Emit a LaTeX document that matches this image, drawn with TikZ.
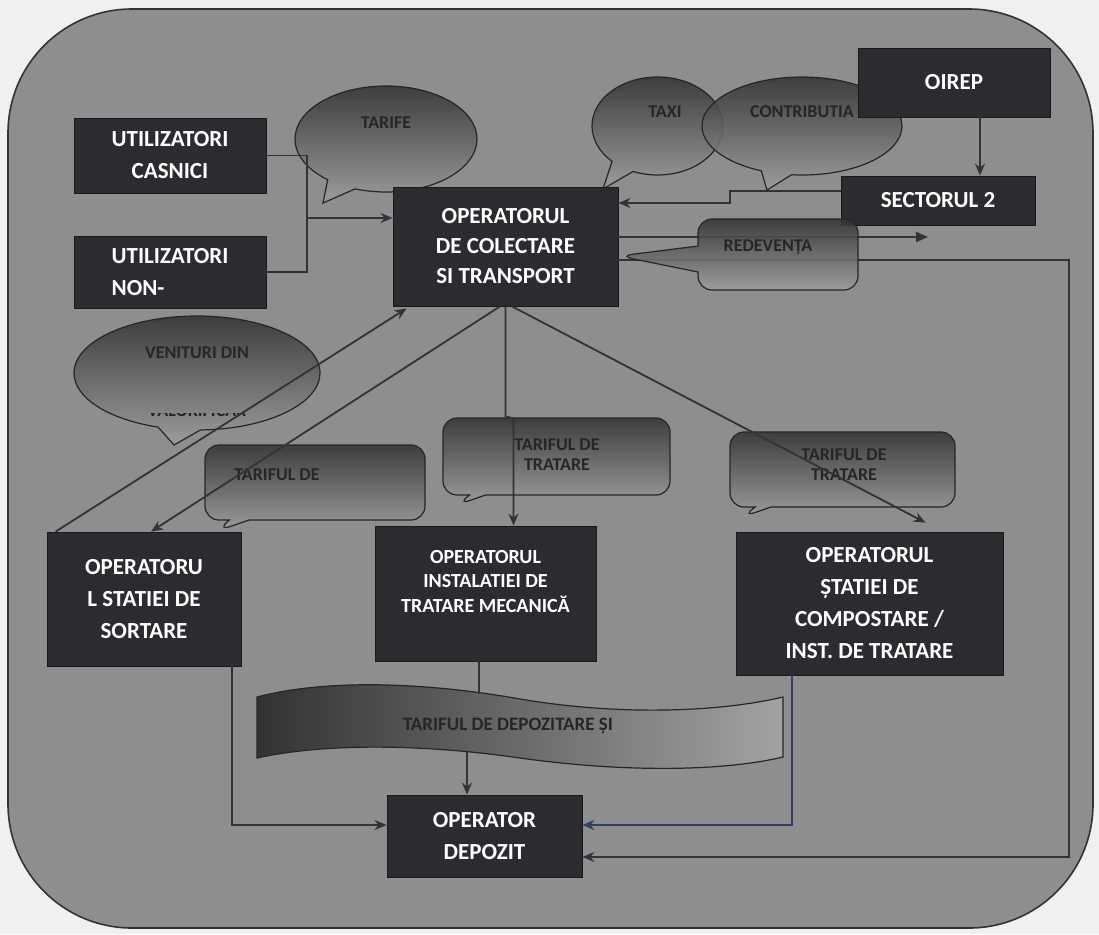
\documentclass[tikz,border=0pt]{standalone}
\usepackage{fontspec}
\setmainfont{Carlito}
\usetikzlibrary{positioning,shapes.callouts,arrows.meta}

\definecolor{boxfill}{RGB}{44,44,48}
\definecolor{panel}{RGB}{142,142,142}
\definecolor{linkcol}{RGB}{50,50,56}
\definecolor{bluelink}{RGB}{50,62,94}

\tikzset{
  box/.style={draw=black!90, fill=boxfill, text=white, align=center, inner sep=0pt,
    font=\bfseries\fontsize{11.5}{16}\selectfont},
  bubble/.style={draw=black!85, line width=0.6pt, top color=black!80, bottom color=black!38, fill opacity=0.88},
  bubtext/.style={text=black!85, align=center, inner sep=0pt, font=\bfseries\fontsize{9}{10}\selectfont},
  link/.style={draw=linkcol, line width=0.9pt}
}

\begin{document}
\begin{tikzpicture}[x=0.5pt,y=0.5pt,>={Stealth[length=6pt,width=5pt]}]
  \useasboundingbox (0,0) rectangle (1099,-934);
  \fill[gray!12] (0,0) rectangle (1099,-934);
  \draw[fill=panel, draw=black!80, line width=0.8pt, rounded corners=62pt] (8,-9) rectangle (1093,-928);

  \node[bubble, ellipse callout, callout pointer arc=20, minimum width=91pt, minimum height=53pt, callout absolute pointer={(323,-203)}] (a) at (386,-139) {};
  \node[bubtext] (a1) at (386,-123) {TARIFE};
  \node[bubble, ellipse callout, callout pointer arc=22, minimum width=65.5pt, minimum height=49pt, callout absolute pointer={(603,-189)}] (b) at (657.5,-126) {};
  \node[bubtext] (b1) at (665,-112) {TAXI};
  \node[bubble, ellipse callout, callout pointer arc=18, minimum width=100pt, minimum height=49pt, callout absolute pointer={(767,-190)}] (c) at (802,-126) {};
  \node[bubtext] (c1) at (802,-112) {CONTRIBUTIA};
  \node[bubble, ellipse callout, callout pointer arc=20, minimum width=123pt, minimum height=57pt, callout absolute pointer={(174,-445)}] (d) at (197,-373) {};
  \node[bubtext] (d1) at (197,-353) {VENITURI DIN};
  \begin{scope}
    \clip (100,-413) rectangle (300,-440);
    \node[bubtext] (d2) at (197,-411) {VALORIFICAR};
  \end{scope}

  \node[bubble, rectangle callout, rounded corners=7pt, callout pointer width=10pt, minimum width=110pt, minimum height=37.5pt, callout absolute pointer={(217,-531)}] (f) at (315,-482.5) {};
  \node[bubtext] (f1) at (277,-475) {TARIFUL DE};
  \node[bubble, rectangle callout, rounded corners=7pt, callout pointer width=8pt, minimum width=113.5pt, minimum height=38.5pt, callout absolute pointer={(457,-505)}] (g) at (556.5,-456.5) {};
  \node[bubtext] (g1) at (557,-455) {TARIFUL DE\\TRATARE};
  \node[bubble, rectangle callout, rounded corners=7pt, callout pointer width=8pt, minimum width=112.5pt, minimum height=37.5pt, callout absolute pointer={(742,-517)}] (h) at (842.5,-469.5) {};
  \node[bubtext] (h1) at (844,-465) {TARIFUL DE\\TRATARE};

  \draw[bubble, left color=black!85, right color=black!35] (257,-697) .. controls (330,-678) and (430,-683) .. (520,-699) .. controls (620,-716) and (720,-712) .. (783,-697) -- (783,-757) .. controls (720,-772) and (620,-772) .. (520,-758) .. controls (430,-745) and (330,-742) .. (257,-758) -- cycle;
  \coordinate (wt) at (479,-694);
  \coordinate (wb) at (467,-752);
  \node[bubtext, font=\bfseries\fontsize{9.5}{10}\selectfont] (w1) at (508,-726) {TARIFUL DE DEPOZITARE ȘI};

  \node[box, minimum width=96pt, minimum height=37.5pt] (1) at (170,-155.5) {UTILIZATORI\\CASNICI};
  \node[box, minimum width=96pt, minimum height=36pt, align=left, below of=1, yshift=-29.8pt] (2) {UTILIZATORI\\NON-};
  \node[box, minimum width=112.5pt, minimum height=59.5pt, font=\bfseries\fontsize{11.5}{15}\selectfont] (3) at (505.5,-246.5) {OPERATORUL\\DE COLECTARE\\SI TRANSPORT};
  \node[box, minimum width=96pt, minimum height=34.5pt] (4) at (954,-82.5) {OIREP};
  \node[box, minimum width=97pt, minimum height=24.5pt, below of=4, yshift=-30.55pt, xshift=-8pt] (5) {SECTORUL 2};
  \node[box, minimum width=97pt, minimum height=67pt] (6) at (144,-599) {OPERATORU\\L STATIEI DE\\SORTARE};
  \node[box, minimum width=110.5pt, minimum height=67.5pt, font=\bfseries\fontsize{10}{12.25}\selectfont] (7) at (485.5,-593.5) {OPERATORUL\\INSTALATIEI DE\\TRATARE MECANICĂ\\~};
  \node[box, minimum width=133.5pt, minimum height=71.5pt] (8) at (869.5,-603.5) {OPERATORUL\\ȘTATIEI DE\\COMPOSTARE /\\INST. DE TRATARE};
  \node[box, minimum width=97.5pt, minimum height=41pt, below of=7, yshift=-92.8pt, xshift=-0.5pt] (9) {OPERATOR\\DEPOZIT};

  \coordinate (s2) at (928,-237);
  \coordinate (rc) at (1069,-857);
  \draw[link, -{Triangle[length=6pt,width=5pt]}] ([yshift=4.75pt]3.east) -- (s2);
  \draw[link, ->] ([yshift=-6.75pt]3.east) -| (rc) -- (9.east |- rc);

  \node[bubble, rectangle callout, rounded corners=7pt, callout pointer width=13pt, minimum width=80pt, minimum height=35.5pt, callout absolute pointer={(619,-256)}] (e) at (778,-254.5) {};
  \node[bubtext] (e1) at (768,-247) {REDEVENȚA};

  \coordinate (j) at (307,-218);
  \draw[link] (1) -| (j);
  \draw[link] (2) -| (j);
  \draw[link, ->] (j) -- (j -| 3.west);
  \draw[link, ->] (4.south -| 980,0) -- (5.north -| 980,0);
  \draw[link, ->] ([yshift=4.75pt]5.west) -| (730,-197) |- ([yshift=21.75pt]3.east);
  \draw[link, ->] ([xshift=-2.75pt]3.south) -- ([xshift=3.5pt]6.north);
  \draw[link, ->] ([xshift=4.5pt]6.north west) -- ([xshift=7pt,yshift=-1pt]3.south west);
  \draw[link, ->] (3.south) -- ++(0,-110) -- ++(8,-2) -- ([xshift=14pt]7.north);
  \draw[link, ->] ([xshift=3.25pt]3.south) -- ([xshift=28pt,yshift=4.5pt]8.north);
  \draw[link] (7.south -| wt) -- (wt);
  \draw[link, ->] (wb) -- (9.north -| wb);
  \draw[link, ->] ([xshift=44pt]6.south) |- ([yshift=5.5pt]9.west);
  \draw[link, draw=bluelink, ->] ([xshift=-38.75pt]8.south) |- ([yshift=5.5pt]9.east);
\end{tikzpicture}
\end{document}
